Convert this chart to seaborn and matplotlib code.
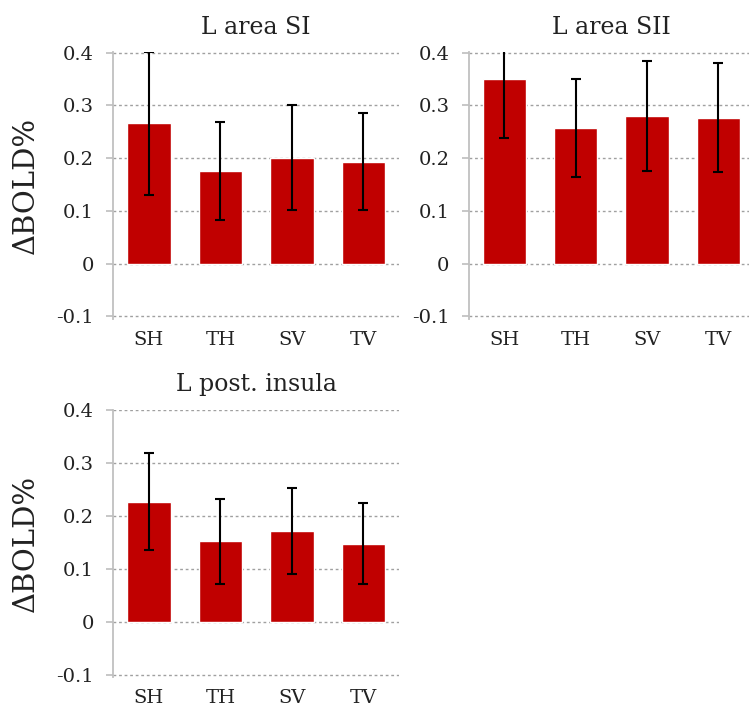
import numpy as np
import matplotlib
matplotlib.use("Agg")
import matplotlib.pyplot as plt
import seaborn as sns

# data
conditions = ["SH", "TH", "SV", "TV"]
titles = ["L area SI", "L area SII", "L post. insula"]

si_mean = [0.266, 0.175, 0.201, 0.193]
si_err = [0.135, 0.093, 0.099, 0.092]

sii_mean = [0.351, 0.258, 0.280, 0.277]
sii_err = [0.113, 0.093, 0.105, 0.104]

insula_mean = [0.227, 0.152, 0.172, 0.148]
insula_err = [0.092, 0.080, 0.081, 0.077]

y_ticks = [-0.1, 0, 0.1, 0.2, 0.3, 0.4]
y_tick_labels = ["-0.1", "0", "0.1", "0.2", "0.3", "0.4"]

bar_color = "#C00000"
text_color = "#222222"

sns.set_theme(style="white")
plt.rcParams["font.family"] = ["DejaVu Serif", "DejaVu Sans"]

fig = plt.figure(figsize=(7.49, 7.11), dpi=100)

# axes boxes in figure fractions
boxes = [
    [0.151, 0.552, 0.382, 0.375],
    [0.626, 0.552, 0.3805, 0.375],
    [0.151, 0.048, 0.382, 0.376],
]
panels = [(si_mean, si_err), (sii_mean, sii_err), (insula_mean, insula_err)]


def draw_panel(ax, means, errs, title, show_ylabel):
    sns.barplot(x=conditions, y=means, color=bar_color, width=0.61,
                saturation=1, errorbar=None, ax=ax, zorder=2)
    ax.errorbar(np.arange(len(conditions)), means, yerr=errs, fmt="none",
                ecolor="black", elinewidth=1.5, capsize=3.5, capthick=1.5,
                zorder=3)
    ax.set_ylim(-0.104, 0.4015)
    ax.set_xlim(-0.5, 3.5)
    ax.set_yticks(y_ticks)
    ax.set_yticklabels(y_tick_labels)
    ax.yaxis.grid(True, linestyle=(0, (2, 2)), color="#a0a0a0", linewidth=1.0)
    ax.set_axisbelow(True)
    for side in ["top", "right", "bottom"]:
        ax.spines[side].set_visible(False)
    ax.spines["left"].set_color("#c0c0c0")
    ax.spines["left"].set_linewidth(1.3)
    ax.tick_params(axis="y", length=5, color="#c0c0c0", pad=9,
                   labelsize=14, labelcolor=text_color, left=True)
    ax.tick_params(axis="x", length=0, pad=9, labelsize=14,
                   labelcolor=text_color)
    ax.set_xlabel("")
    ax.set_title(title, fontsize=17, color=text_color, pad=13)
    if show_ylabel:
        ax.set_ylabel("ΔBOLD%", fontsize=21, color=text_color)
        ax.yaxis.set_label_coords(-0.255, 0.5)
    else:
        ax.set_ylabel("")


for i, (box, (m, e), t) in enumerate(zip(boxes, panels, titles)):
    ax = fig.add_axes(box)
    draw_panel(ax, m, e, t, show_ylabel=(i != 1))

fig.savefig("out.png", dpi=100, facecolor="white")
